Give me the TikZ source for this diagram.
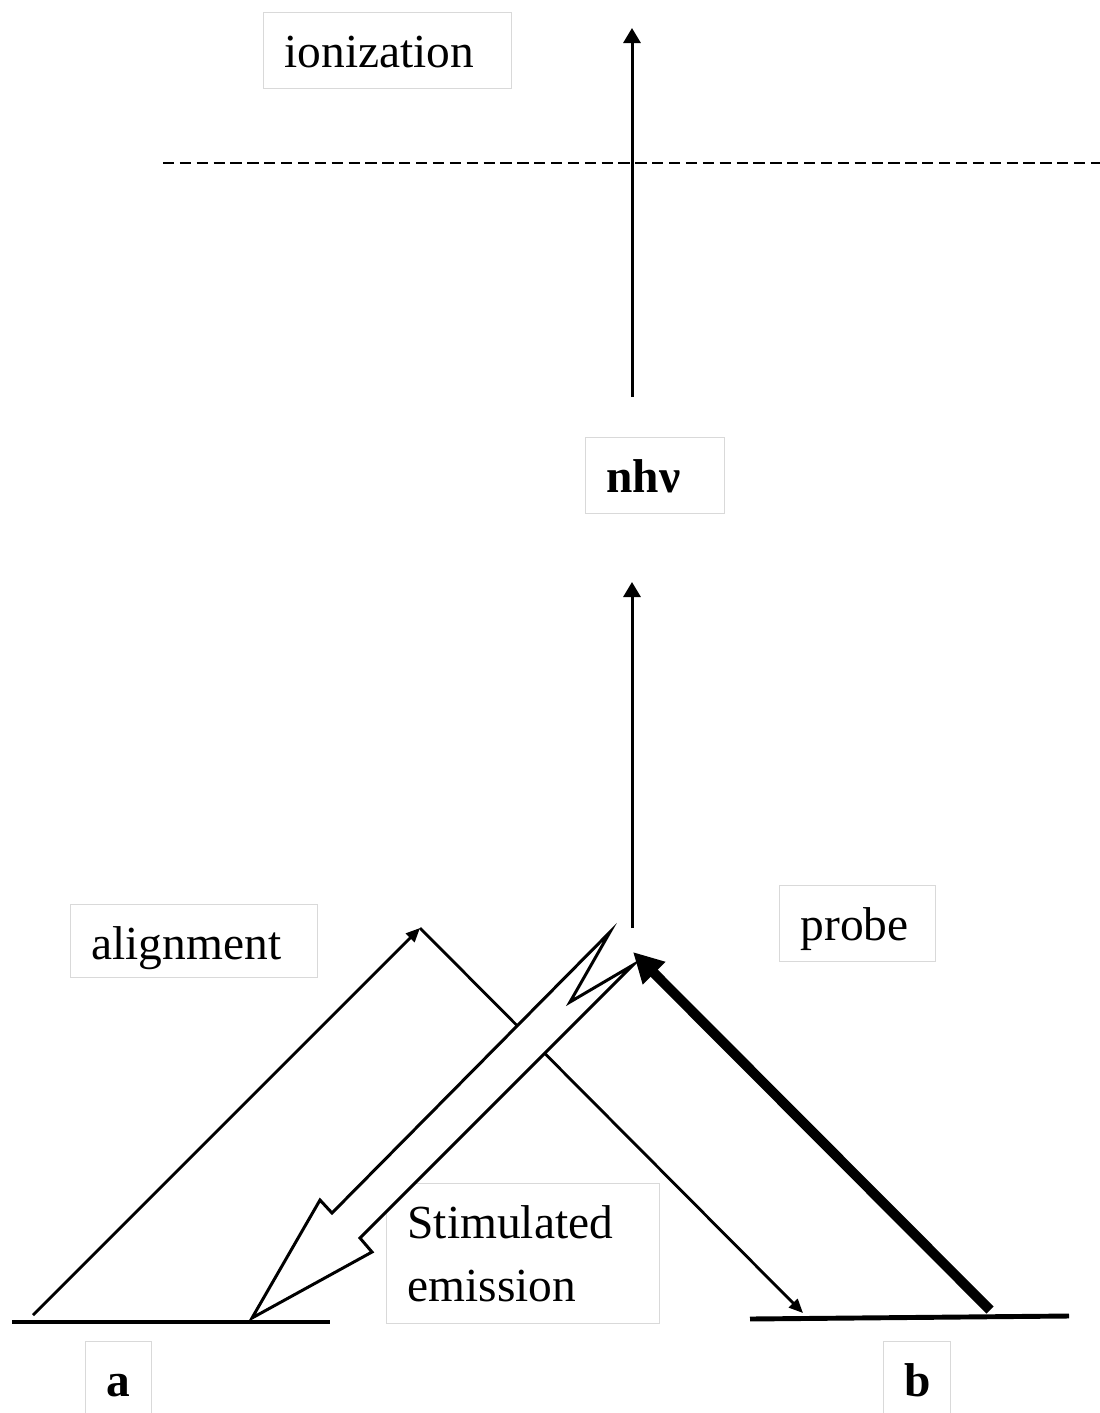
\documentclass[tikz,border=0pt]{standalone}
\usepackage{fontspec}
\setmainfont{Liberation Serif}
\usetikzlibrary{positioning, arrows.meta}
\tikzset{>=latex}

\begin{document}
\begin{tikzpicture}
    [
        label_box/.style={draw=black!15, line width=0.6pt, anchor=north west, inner xsep=0.42cm, inner ysep=0pt, align=left, font=\fontsize{27}{36}\selectfont},
        one_line/.style={label_box, text height=1.1cm, text depth=#1},
        thin_arrow/.style={line width=1.7pt, -{Triangle[length=3mm, width=3.4mm]}},
        align_arrow/.style={line width=1.6pt, -{Triangle[length=2.8mm, width=2.4mm]}},
        level/.style={line width=2.8pt},
    ]
  \useasboundingbox (0,0) rectangle (22,-28.26);
  \clip (0,0) rectangle (22,-28.26);

  % text boxes
  \node[one_line=0.42cm, text width=4.12cm] (ion) at (5.26,-0.24) {ionization};
  \node[one_line=0.42cm, text width=1.94cm] (nhv) at (11.70,-8.74) {\bfseries nhν};
  \node[one_line=0.36cm, text width=4.10cm] (align) at (1.40,-18.08) {alignment};
  \node[one_line=0.42cm, text width=2.28cm] (probe) at (15.58,-17.70) {probe};
  \node[label_box, text width=4.62cm, minimum height=2.80cm] (stim) at (7.72,-23.66) {Stimulated\\emission};
  \node[one_line=0.42cm, text width=0.48cm] (a) at (1.70,-26.82) {\bfseries a};
  \node[one_line=0.42cm, text width=0.50cm] (b) at (17.66,-26.82) {\bfseries b};

  % levels and end points
  \coordinate (aL) at (0.24,-26.44);
  \coordinate (aR) at (6.60,-26.44);
  \coordinate (bL) at (15.00,-26.38);
  \coordinate (bR) at (21.38,-26.32);
  \coordinate (alStart) at (0.66,-26.30);
  \coordinate (alTop) at (8.40,-18.56);
  \coordinate (alEnd) at (16.06,-26.26);
  \coordinate (prStart) at (19.80,-26.20);
  \coordinate (prEnd) at (12.66,-19.04);
  \coordinate (midBot) at (12.64,-18.56);
  \coordinate (midTop) at (12.64,-11.64);
  \coordinate (ionBot) at (12.64,-7.94);
  \coordinate (ionTop) at (12.64,-0.56);
  \coordinate (limL) at (3.26,-3.26);
  \coordinate (limR) at (22.2,-3.26);

  \draw[level] (aL) -- (aR);
  \draw[level] (bL) -- (bR);
  \draw[line width=1.6pt, dash pattern=on 6.4pt off 3.2pt] (limL) -- (limR);

  \draw[thin_arrow] (ionBot) -- (ionTop);
  \draw[thin_arrow] (midBot) -- (midTop);

  \draw[align_arrow] (alStart) -- (alTop);
  \draw[align_arrow] (alTop) -- (alEnd);

  % stimulated emission
  \draw[line width=1.7pt, fill=white, line join=miter]
    (12.20,-18.64) -- (11.40,-20.04) -- (12.66,-19.30) -- (7.20,-24.76) -- (7.44,-25.04)
    -- (5.04,-26.36) -- (6.40,-24.00) -- (6.64,-24.26) -- cycle;

  \draw[line width=5.7pt, -{Triangle[length=6mm, width=6mm]}] (prStart) -- (prEnd);
\end{tikzpicture}
\end{document}
